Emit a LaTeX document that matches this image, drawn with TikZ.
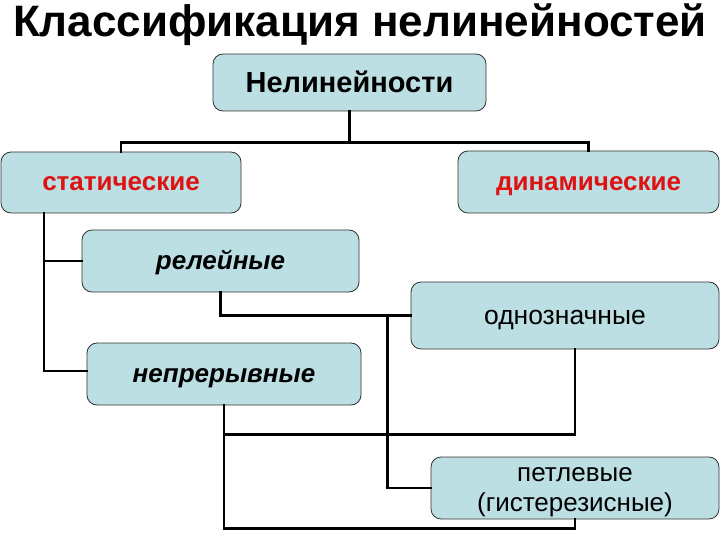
\documentclass[tikz,border=0pt]{standalone}
\usepackage{fontspec}
\setmainfont{Liberation Sans}
\usepackage{xcolor}
\usetikzlibrary{positioning}
\definecolor{boxfill}{RGB}{188,223,227}
\definecolor{boxline}{RGB}{50,50,50}
\definecolor{catred}{RGB}{222,18,18}

\begin{document}
\begin{tikzpicture}[x=1pt, y=-1pt,
        box/.style={draw=boxline, line width=0.8pt, fill=boxfill, rounded corners=10pt,
            inner sep=0pt, align=center, font=\fontsize{26}{30}\selectfont},
        oneline/.style={text height=17pt, text depth=0pt},
        link/.style={line width=2.6pt, line cap=rect}]
        %\tikzset{link/.style={line width=3pt}}
        \useasboundingbox (0,0) rectangle (720,540);
        \node[anchor=base, font=\fontsize{44}{48}\selectfont\bfseries] (title) at (360,37) {Классификация нелинейностей};

        \node[box, minimum width=273pt, minimum height=57pt, text height=21pt, text depth=0pt, font=\fontsize{29}{32}\selectfont\bfseries] (root) at (349.5,82.5) {Нелинейности};
        \node[box, oneline, minimum width=240pt, minimum height=61pt, font=\fontsize{26}{30}\selectfont\bfseries, text=catred] (stat) at (121,182.5) {статические};
        \node[box, oneline, minimum width=261pt, minimum height=62pt, font=\fontsize{26}{30}\selectfont\bfseries, text=catred] (dyn) at (588.5,182) {динамические};

        \node[box, oneline, minimum width=277pt, minimum height=62pt, font=\fontsize{26}{30}\selectfont\bfseries\itshape] (rel) at (220.5,261) {релейные};
        \node[box, oneline, minimum width=274pt, minimum height=62pt, font=\fontsize{26}{30}\selectfont\bfseries\itshape] (nep) at (224,374) {непрерывные};

        \node[box, oneline, minimum width=308pt, minimum height=67pt, font=\fontsize{26.5}{30}\selectfont] (odn) at (565,315.5) {однозначные};
        \node[box, minimum width=288pt, minimum height=62pt] (pet) at (575,488)
            {\raisebox{-4pt}[\height][\depth]{петлевые}\\\raisebox{-4pt}[\height][\depth]{(гистерезисные)}};

        \draw[link, line width=3.4pt] (root.south) -- ++(0,31) coordinate (bus);
        \draw[link] (stat.north) |- (bus) -| (dyn.north);

        \draw[link] ([xshift=-77pt]stat.south) |- ([yshift=3pt]nep.west);
        \draw[link] ([xshift=-77pt]stat.south) |- (rel.west);

        \draw[link] (rel.south) |- (odn.west);
        \draw[link] ([xshift=-23pt]odn.west) |- (pet.west);

        \draw[link] (nep.south) -- ++(0,29) -| ([xshift=10pt]odn.south);
        \draw[link] (nep.south) -- ++(0,123) -| (pet.south);
    \end{tikzpicture}
\end{document}
